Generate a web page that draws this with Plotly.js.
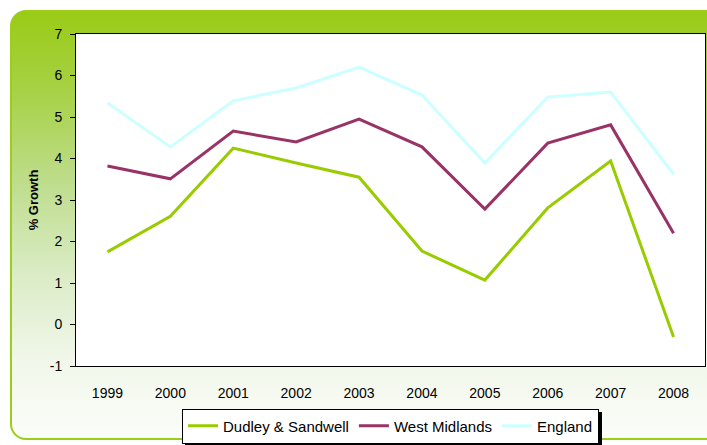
<!DOCTYPE html>
<html><head><meta charset="utf-8">
<script src="https://cdn.plot.ly/plotly-3.0.1.min.js"></script>
<style>
html,body{margin:0;padding:0;background:#fff;width:707px;height:445px;overflow:hidden;}
#frame{position:absolute;left:10px;top:10px;width:720px;height:430px;border-radius:16px;
border:2px solid #9ccc1c;box-sizing:border-box;
background:linear-gradient(to bottom,#9acb16 0%,#a6d144 18%,#bedd8c 40%,#dbecc6 62%,#f1f7ea 82%,#fbfdf9 100%);}
#chart{position:absolute;left:0;top:0;width:707px;height:445px;}
</style></head><body>
<div id="frame"></div>
<div id="chart"></div>
<script>
const years = ['1999','2000','2001','2002','2003','2004','2005','2006','2007','2008'];
const dudley = [1.75, 2.61, 4.25, 3.89, 3.55, 1.77, 1.07, 2.81, 3.94, -0.30];
const westMidlands = [3.82, 3.51, 4.66, 4.40, 4.95, 4.28, 2.78, 4.37, 4.81, 2.20];
const england = [5.34, 4.28, 5.39, 5.70, 6.20, 5.53, 3.89, 5.48, 5.60, 3.62];
const yTickVals = [-1, 0, 1, 2, 3, 4, 5, 6, 7];
const yTickText = ['-1', '0', '1', '2', '3', '4', '5', '6', '7'];

const mk = (name, y, color) => ({type:'scatter', mode:'lines', name, x:years, y, line:{color, width:3}});
const data = [
  mk('Dudley & Sandwell', dudley, '#99cc00'),
  mk('West Midlands', westMidlands, '#993366'),
  mk('England', england, '#ccffff')
];
const layout = {
  width:707, height:445,
  margin:{l:76, r:2, t:34, b:79},
  paper_bgcolor:'rgba(0,0,0,0)', plot_bgcolor:'#ffffff',
  font:{family:'Liberation Sans, Arial, sans-serif', size:14, color:'#000'},
  showlegend:true,
  legend:{orientation:'h', x:0.5, xanchor:'center', xref:'paper', y:0.082, yanchor:'top', yref:'container',
    bgcolor:'#ffffff', bordercolor:'#000', borderwidth:1, font:{size:15}, itemwidth:30},
  xaxis:{type:'category', showgrid:false, zeroline:false, showline:true, linecolor:'#000', linewidth:1,
    mirror:true, ticks:'', tickfont:{size:14}, range:[-0.5,9.5], ticklabelstandoff:14},
  yaxis:{range:[-1,7], tickvals:yTickVals, ticktext:yTickText, showgrid:false, zeroline:false, showline:true,
    linecolor:'#000', linewidth:1, mirror:true, ticks:'outside', ticklen:5, tickcolor:'#000',
    tickfont:{size:14}, ticklabelstandoff:5,
    title:{text:'% Growth', font:{size:13, weight:'bold'}, standoff:8}}
};
Plotly.newPlot('chart', data, layout, {displayModeBar:false, staticPlot:true}).then(gd => {
  const bg = gd.querySelector('.legend rect.bg');
  if (bg) {
    const sh = bg.cloneNode();
    sh.setAttribute('class', 'shadow');
    sh.style.fill = '#000';
    sh.style.stroke = '#000';
    sh.setAttribute('transform', (bg.getAttribute('transform') || '') + ' translate(3,3)');
    bg.parentNode.insertBefore(sh, bg);
  }
});
</script>
</body></html>
